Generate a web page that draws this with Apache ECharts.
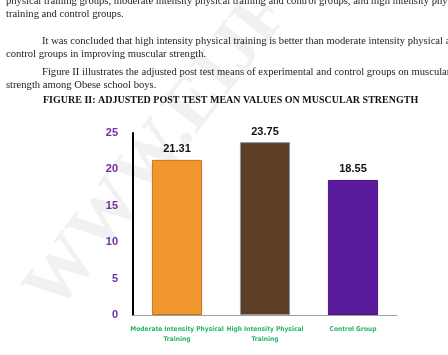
<!DOCTYPE html>
<html><head><meta charset="utf-8">
<script src="https://cdn.jsdelivr.net/npm/echarts@6/dist/echarts.min.js"></script>
<style>html,body{margin:0;padding:0;background:#fff}#c{width:448px;height:355px}</style>
</head><body><div id="c"></div>
<script>
const categories = ['Moderate Intensity Physical\nTraining', 'High Intensity Physical\nTraining', 'Control Group'];
const values = [21.31, 23.75, 18.55];
const barColors = ['#f29630', '#5e3f26', '#5a1c9c'];
const barBorders = ['#c8741c', '#8a9aa8', '#4a1480'];
const yTicks = [0, 5, 10, 15, 20, 25];
const paragraphLines = [
  'physical training groups, moderate intensity physical training and control groups, and high intensity physical',
  'training and control groups.',
  'It was concluded that high intensity physical training is better than moderate intensity physical and',
  'control groups in improving muscular strength.',
  'Figure II illustrates the adjusted post test means of experimental and control groups on muscular',
  'strength among Obese school boys.'
];
const figureTitle = 'FIGURE II: ADJUSTED POST TEST MEAN VALUES ON MUSCULAR STRENGTH';

const chart = echarts.init(document.getElementById('c'), null, {renderer: 'canvas'});
const lineY = [-4, 9, 36, 49, 67, 80];
const lineX = [6, 6, 42, 6, 42, 6];
const graphics = [{
  type: 'text', x: 70, y: 325, rotation: Math.PI * 0.29, z: -1,
  style: {text: 'WWW.EIJF', fill: '#f1f1f1', font: 'bold 72px "Liberation Serif"', textVerticalAlign: 'bottom'}
}];
paragraphLines.forEach((t, i) => graphics.push({
  type: 'text', left: lineX[i], top: lineY[i],
  style: {text: t, fill: '#222', font: '10.6px "Liberation Serif"'}
}));
graphics.push({type: 'text', left: 43, top: 95,
  style: {text: figureTitle, fill: '#111', font: 'bold 10px "Liberation Serif"'}});

chart.setOption({
  animation: false,
  graphic: graphics,
  grid: {left: 133, right: 51, top: 133, bottom: 40},
  xAxis: {
    type: 'category', data: categories,
    axisLine: {lineStyle: {color: '#a0a0a0', width: 1}},
    axisTick: {show: false},
    axisLabel: {color: '#2cb468', fontWeight: 'bold', fontSize: 6.6, fontFamily: '"DejaVu Sans Condensed", "Liberation Sans"', lineHeight: 9.5, margin: 10, interval: 0}
  },
  yAxis: {
    type: 'value', min: 0, max: 25, interval: 5,
    axisLine: {show: true, lineStyle: {color: '#000', width: 2}},
    axisTick: {show: false},
    splitLine: {show: false},
    axisLabel: {color: '#7030a0', fontWeight: 'bold', fontSize: 11, fontFamily: 'Arial', margin: 15,
      formatter: v => yTicks.includes(v) ? String(v) : ''}
  },
  series: [{
    type: 'bar', barWidth: '57%',
    data: values.map((v, i) => ({value: v, itemStyle: {color: barColors[i], borderColor: barBorders[i], borderWidth: 1}})),
    label: {show: true, position: 'top', distance: 5, color: '#111', fontWeight: 'bold', fontSize: 11, fontFamily: 'Arial',
      formatter: p => p.value.toFixed(2)}
  }]
});
</script></body></html>
